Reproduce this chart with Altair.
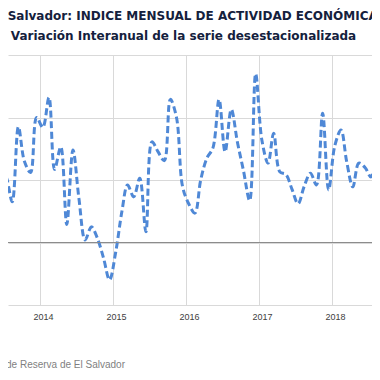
import altair as alt
import pandas as pd

# Monthly year-on-year variation (%), Jun-2013 .. Sep-2018
VALUES = [
    -0.30, 1.05, 0.65, 1.85, 1.30, 1.12, 2.00,            # 2013 Jun-Dec
    1.84, 2.32, 1.17, 1.53, 0.29, 1.48, 0.70, 0.04, 0.25, 0.07, -0.25, -0.60,  # 2014
    -0.15, 0.50, 0.92, 0.73, 1.03, 0.17, 1.61, 1.45, 1.31, 2.29, 2.00, 0.90,   # 2015
    0.62, 0.47, 1.00, 1.35, 1.51, 2.29, 1.45, 2.13, 1.60, 1.15, 0.67, 2.70,    # 2016
    1.64, 1.27, 1.75, 1.13, 1.09, 0.85, 0.62, 0.90, 1.11, 0.92, 2.07, 0.84,    # 2017
    1.55, 1.80, 1.30, 0.89, 1.27, 1.20, 1.05, 1.33, 0.90,                      # 2018 Jan-Sep
]
FIRST_MONTH = "2013-06-01"
YEARS = [2014, 2015, 2016, 2017, 2018]
Y_GRID = [-1, 0, 1, 2, 3]

TITLE = "El Salvador: INDICE MENSUAL DE ACTIVIDAD ECONÓMICA"
SUBTITLE = "Variación Interanual de la serie desestacionalizada"
SOURCE = "Fuente: Banco Central de Reserva de El Salvador"

fechas = (pd.date_range(FIRST_MONTH, periods=len(VALUES), freq="MS")
          + pd.Timedelta(days=14)).strftime("%Y-%m-%d")
df = pd.DataFrame({"fecha": fechas, "v": VALUES})

W, H = 364, 250

x_scale = alt.Scale(domain=[alt.DateTime(year=2013, month=7, date=25),
                            alt.DateTime(year=2018, month=7, date=20)])
y_scale = alt.Scale(domain=[-1, 3], nice=False, zero=False)

x_axis = alt.Axis(values=[alt.DateTime(year=y, month=1, date=1) for y in YEARS],
                  format="%Y", title=None, ticks=False, domain=False,
                  gridColor="#d9d9d9", gridWidth=1, labelOffset=3, labelPadding=7,
                  labelFont="Liberation Sans", labelFontSize=9, labelColor="#404040",
                  labelFlush=False, labelOverlap=False)
y_axis = alt.Axis(values=Y_GRID, labels=False, ticks=False, domain=False,
                  title=None, grid=True, gridColor="#d9d9d9", gridWidth=1)

line = alt.Chart(df).mark_line(
    interpolate="catmull-rom", strokeDash=[7, 3.5], strokeWidth=3,
    color="#4f88d6", clip=True
).encode(
    x=alt.X("fecha:T", scale=x_scale, axis=x_axis),
    y=alt.Y("v:Q", scale=y_scale, axis=y_axis),
)

zero = alt.Chart(pd.DataFrame({"v": [0]})).mark_rule(
    color="#8c8c8c", strokeWidth=1
).encode(y=alt.Y("v:Q", scale=y_scale, axis=y_axis))

def label(txt, x, y, size, color, font, weight="normal", align="center"):
    return alt.Chart(pd.DataFrame({"t": [txt]})).mark_text(
        fontSize=size, color=color, font=font, fontWeight=weight,
        align=align, baseline="middle"
    ).encode(text="t:N", x=alt.value(x), y=alt.value(y))

title = label(TITLE, 176.5, -39, 12, "#14213d", "DejaVu Sans", "bold")
subtitle = label(SUBTITLE, 175.5, -19, 12, "#14213d", "DejaVu Sans", "bold")
source = label(SOURCE, 117, 310, 10, "#7f7f7f", "Liberation Sans", align="right")

chart = alt.layer(line, zero, title, subtitle, source).properties(
    width=W, height=H,
    autosize=alt.AutoSizeParams(type="none"),
    padding={"left": 0, "top": 47, "right": 0, "bottom": 64},
    background="white",
).configure_view(stroke=None)

chart.save("out.html", embed_options={"renderer": "svg", "actions": False})
